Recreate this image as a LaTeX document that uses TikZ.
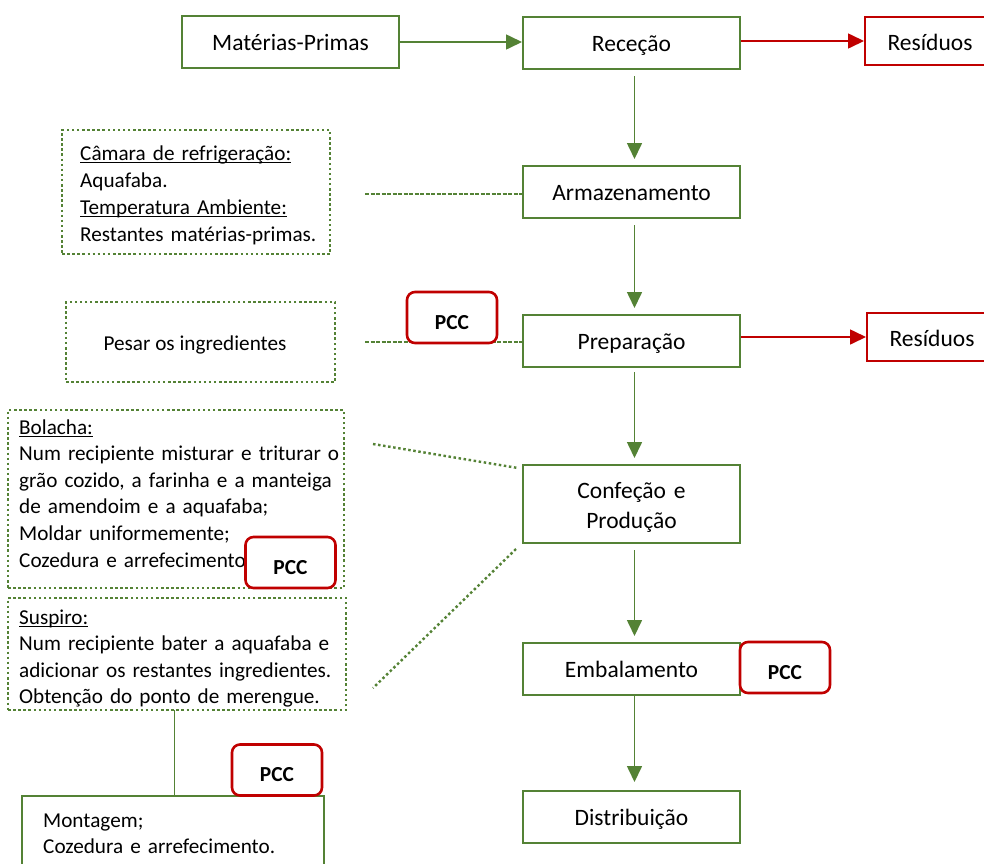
\documentclass[tikz,border=0pt]{standalone}
\usepackage{fontspec}
\setmainfont{Carlito}
\usetikzlibrary{arrows.meta}
\definecolor{grn}{RGB}{84,130,53}
\definecolor{rd}{RGB}{192,0,0}
\newcommand{\fsz}[2]{\fontsize{#1}{#2}\selectfont}
\newcommand{\jl}[1]{\makebox[\linewidth][s]{#1}}
\newsavebox{\myulbox}
\newcommand{\myul}[1]{\leavevmode\sbox{\myulbox}{#1}\rlap{\rule[-3pt]{\wd\myulbox}{1.1pt}}\usebox{\myulbox}}
\tikzset{
  gbox/.style={draw=grn, line width=2pt, fill=white, minimum width=217pt, minimum height=52pt,
    inner sep=0pt, text height=17pt, text depth=0pt, font=\fsz{23.5}{28}},
  rbox/.style={draw=rd, line width=2pt, fill=white, minimum width=130pt, minimum height=48pt,
    inner sep=0pt, text height=19.5pt, text depth=0pt, font=\fsz{23.5}{28}},
  pcc/.style={draw=rd, line width=2.6pt, rounded corners=8pt, fill=white, minimum width=90pt,
    minimum height=51pt, inner sep=0pt, text height=23pt, text depth=0pt, font=\bfseries\fsz{21.4}{26}},
  dotbox/.style={draw=grn, line width=2.4pt, dash pattern=on 2.5pt off 2.6pt, inner sep=0pt},
  dotline/.style={grn, line width=2.4pt, dash pattern=on 2.5pt off 2.6pt},
  dashline/.style={grn, line width=1.1pt, dash pattern=on 4pt off 1.5pt},
  txt/.style={inner sep=0pt, align=left, font=\fsz{21.2}{27}},
  garr/.style={grn, line width=1.6pt, -{Triangle[length=16pt,width=15pt]}},
  rarr/.style={rd, line width=1.6pt, -{Triangle[length=16pt,width=15pt]}},
}
\begin{document}
\begin{tikzpicture}[x=1pt,y=-1pt]
\useasboundingbox (0,0) rectangle (984,863);
% main column
\node[gbox] (mp) at (290.5,42) {Matérias-Primas};
\node[gbox] (rec) at (631.5,43) {Receção};
\node[rbox] (res1) at (930,41) {Resíduos};
\node[gbox] (arm) at (631.5,192) {Armazenamento};
\node[gbox] (prep) at (631.5,341) {Preparação};
\node[rbox] (res2) at (932,337) {Resíduos};
\node[gbox, minimum height=78pt] (conf) at (631.5,504) {};
\node[inner sep=0pt, text width=217pt, align=center, anchor=base, font=\fsz{23.5}{30}] (conft) at (631.5,498) {Confeção e\\Produção};
\node[gbox] (emb) at (631.5,669) {Embalamento};
\node[gbox] (dist) at (631.5,817) {Distribuição};
% left boxes
\node[dotbox, minimum width=268pt, minimum height=124pt] (d1) at (196,192) {};
\node[txt, anchor=base west, text width=260pt] (d1t) at (80,160)
  {\myul{Câmara de refrigeração:}\\Aquafaba.\\\myul{Temperatura Ambiente:}\\Restantes matérias-primas.};
\node[dotbox, minimum width=269pt, minimum height=80pt] (d2) at (200.5,342) {};
\node[inner sep=0pt, anchor=base, font=\fsz{21.2}{27}] (d2t) at (195,350) {Pesar os ingredientes};
\node[dotbox, minimum width=336pt, minimum height=178pt] (dB) at (176,499) {};
\node[txt, anchor=base west, text width=314pt, font=\fsz{21.2}{26.6}] (dBt) at (19,434)
  {\myul{Bolacha:}\\\jl{Num recipiente misturar e triturar o}\\\jl{grão cozido, a farinha e a manteiga}\\de amendoim e a aquafaba;\\Moldar uniformemente;\\Cozedura e arrefecimento.};
\node[dotbox, minimum width=338pt, minimum height=112pt] (dS) at (177,654) {};
\node[txt, anchor=base west, text width=326pt, font=\fsz{21.2}{26.6}] (dSt) at (19,624)
  {\myul{Suspiro:}\\\jl{Num recipiente bater a aquafaba e}\\adicionar os restantes ingredientes.\\Obtenção do ponto de merengue.};
\node[draw=grn, line width=2pt, minimum width=302pt, minimum height=80pt, inner sep=0pt] (mont) at (173,836) {};
\node[txt, anchor=base west, text width=280pt, font=\fsz{21.2}{26}] (montt) at (43,827)
  {Montagem;\\Cozedura e arrefecimento.};
% connectors
\draw[garr] (mp.east) -- (mp.east -| rec.west);
\draw[rarr] (rec.east |- res1.west) -- (res1.west);
\draw[garr, shorten <=6pt, shorten >=6pt] ([xshift=3pt]rec.south) -- ([xshift=3pt]arm.north);
\draw[garr, shorten <=6pt, shorten >=6pt] ([xshift=3pt]arm.south) -- ([xshift=3pt]prep.north);
\draw[garr, shorten <=4pt, shorten >=6pt] ([xshift=3pt]prep.south) -- ([xshift=3pt]conf.north);
\draw[garr, shorten <=6pt, shorten >=6pt] ([xshift=3pt]conf.south) -- ([xshift=3pt]emb.north);
\draw[garr, shorten <=0pt, shorten >=8pt] ([xshift=3pt]emb.south) -- ([xshift=3pt]dist.north);
\draw[rarr] (prep.east |- res2.west) -- (res2.west);
\coordinate (a1) at (365,194);
\draw[dashline] (a1) -- (a1 -| arm.west);
\coordinate (p1) at (365,342);
\draw[dashline] (p1) -- (p1 -| prep.west);
\coordinate (b1) at (373,444);
\coordinate (b2) at (518,468);
\draw[dotline] (b1) -- (b2);
\coordinate (s1) at (516,549);
\coordinate (s2) at (373,688);
\draw[dotline] (s1) -- (s2);
\coordinate (m1) at (174.5,710);
\draw[grn, line width=1.3pt] (m1) -- (m1 |- mont.north);
% PCC
\node[pcc] (pcc1) at (452,317.5) {PCC};
\node[pcc] (pccB) at (290.5,562.5) {PCC};
\node[pcc] (pccE) at (785,667.5) {PCC};
\node[pcc] (pccM) at (277,770) {PCC};
\end{tikzpicture}
\end{document}
